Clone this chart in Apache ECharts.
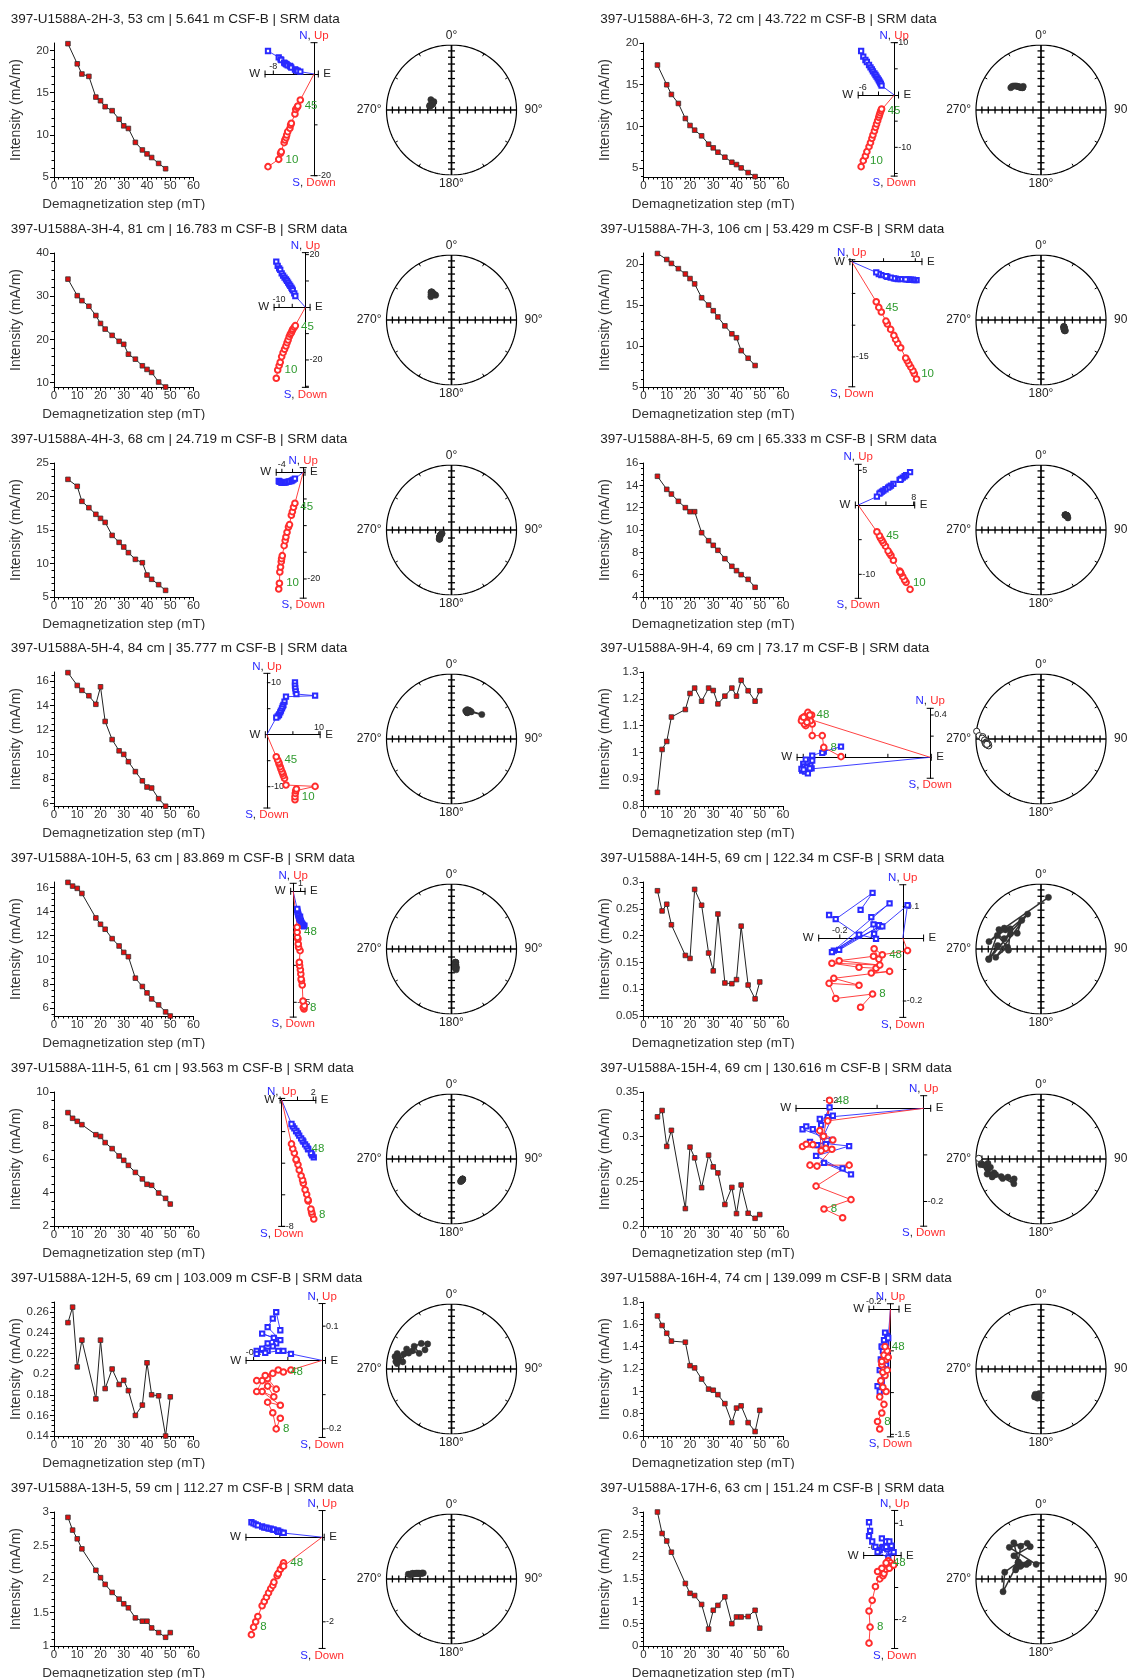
<!DOCTYPE html>
<html>
<head>
<meta charset="utf-8">
<script src="https://cdn.jsdelivr.net/npm/echarts@6/dist/echarts.min.js"></script>
<style>
  html, body { margin: 0; padding: 0; background: #fff; width: 1128px; height: 1678px; overflow: hidden; }
  .panel { position: absolute; height: 210px; overflow: hidden; }
</style>
</head>
<body>
<script>
// ---- demagnetization steps (mT) ----
const stepsA = [6, 10, 12, 15, 18, 20, 22, 25, 28, 30, 32, 35, 38, 40, 42, 45, 48];
const stepsB = [6, 8, 10, 12, 18, 20, 22, 25, 28, 30, 32, 35, 38, 40, 42, 45, 48, 50];

// ---- 2H-3 ----
const int2H3 = [20.82, 18.43, 17.22, 16.94, 14.48, 14.05, 13.34, 12.87, 11.85, 11.07, 10.76, 9.11, 8.21, 7.74, 7.31, 6.61, 5.98];
const east2H3 = [-9.05, -6.94, -6.58, -6.44, -5.87, -5.73, -5.51, -5.37, -5.17, -4.74, -4.60, -4.46, -3.75, -3.60, -3.32, -3.18, -2.69];
const north2H3 = [4.52, 3.28, 2.89, 2.75, 2.23, 2.10, 1.97, 1.90, 1.70, 1.57, 1.44, 1.25, 0.92, 0.79, 0.66, 0.59, 0.46];
const up2H3 = [-18.23, -16.79, -15.61, -15.28, -13.51, -12.98, -12.52, -12.00, -11.34, -10.69, -10.03, -9.70, -7.87, -6.95, -6.56, -6.30, -5.11];

// ---- 6H-3 ----
const int6H3 = [17.36, 15.0, 13.84, 12.76, 10.96, 10.12, 9.56, 8.88, 7.88, 7.44, 6.92, 6.32, 5.72, 5.44, 5.04, 4.48, 4.0];
const east6H3 = [-6.32, -5.91, -5.50, -5.22, -4.81, -4.53, -4.26, -4.06, -3.78, -3.57, -3.37, -3.16, -2.96, -2.82, -2.68, -2.55, -2.41];
const north6H3 = [8.41, 7.32, 6.69, 6.31, 5.73, 5.29, 4.90, 4.52, 4.14, 3.82, 3.50, 3.18, 2.87, 2.61, 2.36, 2.10, 1.78];
const up6H3 = [-13.69, -12.55, -11.66, -10.83, -9.87, -9.11, -8.28, -7.64, -6.88, -6.18, -5.54, -4.90, -4.27, -3.82, -3.38, -2.99, -2.68];

// ---- 3H-4 ----
const int3H4 = [33.96, 30.13, 28.98, 27.68, 25.54, 23.70, 22.40, 20.95, 19.57, 18.88, 16.59, 15.44, 13.91, 13.07, 12.37, 10.15, 9.0];
const east3H4 = [-11.06, -10.52, -9.97, -9.56, -9.01, -8.47, -7.92, -7.38, -6.97, -6.56, -6.15, -5.74, -5.33, -5.05, -4.78, -4.23, -3.82];
const north3H4 = [17.34, 15.70, 14.81, 14.18, 12.91, 12.03, 11.27, 10.63, 10.0, 9.37, 8.73, 8.10, 7.47, 6.96, 6.46, 5.32, 4.30];
const up3H4 = [-26.96, -23.80, -22.15, -20.89, -18.73, -17.22, -15.95, -14.68, -13.42, -12.41, -11.14, -10.25, -9.62, -8.86, -8.35, -7.59, -6.96];

// ---- 7H-3 ----
const int7H3 = [21.29, 20.56, 20.08, 19.44, 18.79, 18.23, 17.58, 15.89, 15.0, 14.31, 13.55, 12.46, 11.49, 11.01, 9.44, 8.51, 7.62];
const east7H3 = [10.20, 9.85, 9.63, 9.29, 9.00, 8.73, 8.49, 7.70, 7.24, 6.90, 6.63, 6.12, 5.60, 5.38, 4.65, 4.25, 3.85];
const north7H3 = [-2.89, -2.89, -2.84, -2.84, -2.84, -2.78, -2.78, -2.73, -2.73, -2.68, -2.62, -2.52, -2.37, -2.26, -2.10, -1.94, -1.68];
const up7H3 = [-18.48, -17.65, -17.17, -16.60, -16.12, -15.59, -15.17, -13.55, -12.86, -12.24, -11.61, -10.66, -9.82, -9.35, -7.93, -7.20, -6.30];

// ---- 4H-3 ----
const int4H3 = [22.56, 21.52, 19.28, 18.33, 17.34, 16.74, 16.14, 14.20, 13.16, 12.46, 11.62, 10.62, 10.12, 8.28, 7.64, 6.84, 5.99];
const east4H3 = [-4.59, -4.46, -4.38, -4.25, -4.11, -4.05, -3.92, -3.57, -3.38, -3.24, -3.03, -2.76, -2.57, -2.22, -2.03, -1.82, -1.55];
const north4H3 = [-1.63, -1.75, -1.81, -1.81, -1.88, -1.94, -1.94, -1.94, -1.88, -1.88, -1.81, -1.75, -1.69, -1.63, -1.50, -1.38, -1.19];
const up4H3 = [-21.88, -20.81, -18.69, -17.75, -16.75, -16.19, -15.63, -13.75, -12.81, -12.13, -11.25, -10.25, -9.81, -8.06, -7.38, -6.56, -5.81];

// ---- 8H-5 ----
const int8H5 = [14.81, 13.64, 13.22, 12.57, 12.0, 11.64, 11.64, 9.76, 9.04, 8.63, 8.18, 7.43, 6.75, 6.36, 6.0, 5.58, 4.87];
const east8H5 = [7.48, 6.91, 6.69, 6.43, 6.18, 5.97, 6.07, 5.08, 4.73, 4.51, 4.31, 3.94, 3.63, 3.43, 3.22, 3.06, 2.70];
const north8H5 = [4.73, 4.30, 4.15, 3.96, 3.77, 3.62, 3.62, 3.04, 2.80, 2.66, 2.51, 2.27, 2.08, 1.93, 1.79, 1.64, 1.21];
const up8H5 = [-12.17, -11.16, -10.82, -10.34, -9.86, -9.52, -9.66, -7.97, -7.29, -6.96, -6.62, -5.94, -5.46, -5.12, -4.78, -4.44, -3.86];

// ---- 5H-4 ----
const int5H4 = [16.70, 15.65, 15.25, 14.81, 14.11, 15.54, 12.71, 11.23, 10.31, 10.02, 9.42, 8.61, 7.86, 7.35, 7.27, 6.40, 5.78];
const east5H4 = [5.40, 5.40, 5.46, 5.54, 5.68, 9.27, 3.67, 3.39, 3.18, 3.04, 2.90, 2.70, 2.56, 2.35, 2.29, 2.07, 1.80];
const north5H4 = [10.06, 9.42, 8.91, 8.33, 7.82, 7.50, 7.31, 6.35, 5.71, 5.45, 5.06, 4.62, 4.29, 3.91, 3.78, 3.53, 3.27];
const up5H4 = [-12.50, -11.92, -11.28, -10.77, -10.45, -9.94, -9.68, -8.40, -7.88, -7.44, -7.12, -6.60, -6.15, -5.64, -5.32, -4.87, -4.23];

// ---- 9H-4 ----
const int9H4 = [0.851, 1.011, 1.041, 1.132, 1.160, 1.220, 1.240, 1.191, 1.240, 1.231, 1.181, 1.210, 1.240, 1.210, 1.269, 1.230, 1.191, 1.230];
const east9H4 = [-0.843, -1.006, -1.020, -1.115, -1.115, -1.176, -1.200, -1.132, -1.189, -1.149, -1.210, -1.165, -1.183, -1.121, -1.217, -1.156, -1.138, -1.197];
const north9H4 = [0.101, 0.054, 0.041, 0.016, -0.031, -0.022, -0.063, -0.079, -0.085, -0.110, -0.126, -0.094, -0.135, -0.104, -0.110, -0.151, -0.104, -0.117];
const up9H4 = [0.006, 0.094, 0.205, 0.205, 0.315, 0.299, 0.369, 0.346, 0.315, 0.387, 0.369, 0.331, 0.387, 0.400, 0.346, 0.425, 0.400, 0.378];

// ---- 10H-5 ----
const int10H5 = [16.42, 16.11, 15.92, 15.50, 13.47, 12.94, 12.53, 11.75, 11.14, 10.61, 10.25, 8.47, 7.78, 7.25, 6.75, 6.25, 5.67, 5.33];
const east10H5 = [1.46, 1.36, 1.51, 1.32, 1.22, 1.12, 1.07, 1.03, 0.97, 0.87, 0.83, 0.93, 0.73, 0.68, 0.64, 0.58, 0.54, 0.54];
const north10H5 = [-4.73, -4.68, -4.64, -4.55, -4.41, -4.28, -4.19, -4.05, -3.87, -3.74, -3.60, -3.42, -3.29, -3.11, -2.93, -2.75, -2.52, -2.39];
const up10H5 = [-15.90, -15.68, -15.45, -14.82, -12.66, -12.07, -11.85, -11.17, -10.59, -10.05, -9.59, -8.02, -7.57, -7.12, -6.44, -6.22, -5.54, -4.86];

// ---- 14H-5 ----
const int14H5 = [0.2837, 0.246, 0.2585, 0.2202, 0.163, 0.1574, 0.2862, 0.2567, 0.1675, 0.1342, 0.2403, 0.1116, 0.1103, 0.1179, 0.2177, 0.1078, 0.082, 0.1135];
const east14H5 = [-0.134, -0.096, -0.213, -0.234, -0.139, -0.219, -0.042, -0.100, -0.085, -0.139, -0.225, -0.073, -0.202, -0.093, -0.076, -0.091, -0.065, 0.015];
const north14H5 = [0.089, 0.143, 0.060, 0.073, 0.008, -0.040, 0.110, 0.066, -0.003, 0.011, -0.045, 0.037, -0.038, 0.043, 0.041, 0.013, 0.037, 0.104];
const up14H5 = [-0.220, -0.178, -0.192, -0.144, -0.150, -0.128, -0.106, -0.111, -0.096, -0.093, -0.080, -0.086, -0.072, -0.058, -0.067, -0.034, -0.053, -0.040];

// ---- 11H-5 ----
const int11H5 = [8.77, 8.43, 8.25, 8.05, 7.45, 7.35, 6.98, 6.62, 6.18, 5.92, 5.62, 5.20, 4.81, 4.49, 4.43, 3.97, 3.65, 3.31];
const east11H5 = [2.03, 1.93, 1.89, 1.85, 1.68, 1.66, 1.58, 1.48, 1.37, 1.32, 1.23, 1.11, 1.03, 0.93, 0.91, 0.80, 0.70, 0.62];
const north11H5 = [-3.63, -3.50, -3.42, -3.35, -3.12, -3.08, -2.93, -2.81, -2.64, -2.55, -2.43, -2.26, -2.11, -1.98, -1.96, -1.79, -1.67, -1.52];
const up11H5 = [-7.53, -7.24, -7.09, -6.90, -6.39, -6.31, -5.97, -5.68, -5.27, -5.06, -4.79, -4.43, -4.09, -3.82, -3.76, -3.36, -3.08, -2.78];

// ---- 15H-4 ----
const int15H4 = [0.3222, 0.3293, 0.2891, 0.3071, 0.2195, 0.2883, 0.2763, 0.2429, 0.2793, 0.2662, 0.2594, 0.2241, 0.2432, 0.2139, 0.2459, 0.2143, 0.2086, 0.2128];
const east15H4 = [-0.174, -0.214, -0.156, -0.231, -0.160, -0.244, -0.229, -0.197, -0.260, -0.252, -0.238, -0.210, -0.215, -0.195, -0.223, -0.220, -0.202, -0.206];
const north15H4 = [-0.129, -0.117, -0.142, -0.102, -0.081, -0.072, -0.079, -0.068, -0.045, -0.039, -0.045, -0.077, -0.060, -0.016, -0.023, -0.036, 0.002, -0.019];
const up15H4 = [-0.235, -0.216, -0.196, -0.167, -0.122, -0.122, -0.124, -0.088, -0.082, -0.077, -0.078, -0.086, -0.060, -0.068, -0.048, -0.091, 0.017, -0.027];

// ---- 12H-5 ----
const int12H5 = [0.250, 0.265, 0.207, 0.233, 0.176, 0.233, 0.186, 0.205, 0.190, 0.194, 0.184, 0.160, 0.170, 0.211, 0.180, 0.179, 0.140, 0.178];
const east12H5 = [-0.122, -0.134, -0.144, -0.159, -0.122, -0.175, -0.141, -0.159, -0.191, -0.175, -0.134, -0.159, -0.191, -0.144, -0.166, -0.128, -0.113, -0.091];
const north12H5 = [0.088, 0.141, 0.122, 0.097, 0.059, 0.078, 0.066, 0.050, 0.028, 0.034, 0.050, 0.028, 0.019, 0.041, 0.022, 0.028, 0.028, 0.019];
const up12H5 = [-0.169, -0.200, -0.153, -0.122, -0.131, -0.091, -0.106, -0.075, -0.091, -0.059, -0.084, -0.053, -0.059, -0.038, -0.044, -0.028, -0.034, -0.028];

// ---- 16H-4 ----
const int16H4 = [1.675, 1.59, 1.52, 1.45, 1.44, 1.23, 1.21, 1.11, 1.02, 1.01, 0.97, 0.89, 0.72, 0.85, 0.87, 0.72, 0.64, 0.83];
const east16H4 = [-0.128, -0.154, -0.103, -0.077, -0.128, -0.051, -0.090, -0.115, -0.064, -0.090, -0.038, -0.103, -0.051, -0.077, -0.103, -0.038, -0.064, -0.026];
const north16H4 = [-0.987, -0.923, -0.859, -0.795, -0.731, -0.667, -0.705, -0.603, -0.577, -0.500, -0.538, -0.449, -0.410, -0.372, -0.449, -0.321, -0.282, -0.346];
const up16H4 = [-1.436, -1.346, -1.244, -1.141, -1.051, -0.987, -0.936, -0.859, -0.795, -0.756, -0.731, -0.667, -0.603, -0.551, -0.628, -0.500, -0.449, -0.577];

// ---- 13H-5 ----
const int13H5 = [2.92, 2.73, 2.60, 2.45, 2.13, 2.02, 1.92, 1.80, 1.70, 1.63, 1.57, 1.42, 1.37, 1.37, 1.27, 1.20, 1.13, 1.20];
const east13H5 = [-1.671, -1.620, -1.570, -1.519, -1.418, -1.367, -1.316, -1.266, -1.215, -1.165, -1.139, -1.063, -1.038, -1.038, -0.987, -0.937, -0.911, -0.911];
const north13H5 = [0.354, 0.329, 0.304, 0.278, 0.253, 0.228, 0.228, 0.203, 0.203, 0.177, 0.177, 0.152, 0.152, 0.127, 0.127, 0.101, 0.101, 0.101];
const up13H5 = [-2.304, -2.127, -2.000, -1.873, -1.620, -1.519, -1.418, -1.316, -1.215, -1.139, -1.063, -0.911, -0.861, -0.861, -0.759, -0.684, -0.608, -0.684];

// ---- 17H-6 ----
const int17H6 = [3.0, 2.52, 2.35, 2.1, 1.4, 1.18, 1.13, 0.93, 0.38, 0.8, 0.91, 1.1, 0.5, 0.65, 0.65, 0.66, 0.8, 0.4];
const east17H6 = [-0.800, -0.767, -0.800, -0.700, -0.600, -0.467, -0.367, -0.533, -0.200, -0.333, -0.267, -0.400, -0.133, -0.233, -0.100, -0.167, -0.267, -0.033];
const north17H6 = [1.033, 0.767, 0.600, 0.433, 0.267, 0.167, 0.267, 0.100, -0.067, 0.233, 0.433, 0.533, 0.100, 0.200, 0.300, 0.433, 0.267, 0.100];
const up17H6 = [-2.733, -2.233, -1.733, -1.400, -0.967, -0.733, -0.633, -0.500, -0.167, -0.567, -0.433, -0.400, -0.233, -0.300, -0.333, -0.400, -0.233, -0.300];

// ---- panels: text, data references, axis ranges and plot frames ----
const panels = [
  { title: '397-U1588A-2H-3, 53 cm | 5.641 m CSF-B | SRM data', steps: stepsA, intensity: int2H3, east: east2H3, north: north2H3, up: up2H3,
    intAxis: { min: 5, max: 20.9, major: 5, minor: 1 },
    zij: { ox: 314, oy: 74, s: 5.083, x: [-9.63, 0.85], y: [-20, 6.16], xt: [-8, -4], xl: [-8], yt: [-10, -20], yl: [-20] } },
  { title: '397-U1588A-6H-3, 72 cm | 43.722 m CSF-B | SRM data', steps: stepsA, intensity: int6H3, east: east6H3, north: north6H3, up: up6H3,
    intAxis: { min: 3.95, max: 20, major: 5, minor: 1 },
    zij: { ox: 304.7, oy: 95, s: 5.233, x: [-6.88, 0.83], y: [-15.5, 10], xt: [-6, -3], xl: [-6], yt: [10, 5, -5, -10, -15], yl: [10, -10] } },
  { title: '397-U1588A-3H-4, 81 cm | 16.783 m CSF-B | SRM data', steps: stepsA, intensity: int3H4, east: east3H4, north: north3H4, up: up3H4,
    intAxis: { min: 9, max: 40, major: 10, minor: 2 },
    zij: { ox: 305.4, oy: 97.3, s: 2.633, x: [-11.89, 1.78], y: [-30.4, 20.76], xt: [-10, -5], xl: [-10], yt: [20, 10, -10, -20, -30], yl: [20, -20] } },
  { title: '397-U1588A-7H-3, 106 cm | 53.429 m CSF-B | SRM data', steps: stepsA, intensity: int7H3, east: east7H3, north: north7H3, up: up7H3,
    intAxis: { min: 5, max: 21.35, major: 5, minor: 1 },
    zij: { ox: 262.3, oy: 51.7, s: 6.35, x: [-0.3, 11.05], y: [-19.7, 0.3], xt: [5, 10], xl: [10], yt: [-5, -10, -15], yl: [-15] } },
  { title: '397-U1588A-4H-3, 68 cm | 24.719 m CSF-B | SRM data', steps: stepsA, intensity: int4H3, east: east4H3, north: north4H3, up: up4H3,
    intAxis: { min: 5, max: 25, major: 5, minor: 1 },
    zij: { ox: 303.2, oy: 52.3, s: 5.333, x: [-5.06, 0.34], y: [-23.6, 0.875], xt: [-4, -2], xl: [-4], yt: [-5, -10, -15, -20], yl: [-20] } },
  { title: '397-U1588A-8H-5, 69 cm | 65.333 m CSF-B | SRM data', steps: stepsA, intensity: int8H5, east: east8H5, north: north8H5, up: up8H5,
    intAxis: { min: 4, max: 16, major: 2, minor: 0.5 },
    zij: { ox: 268.7, oy: 85, s: 6.933, x: [-0.41, 8.15], y: [-13.46, 5.87], xt: [4, 8], xl: [8], yt: [5, -5, -10], yl: [5, -10] } },
  { title: '397-U1588A-5H-4, 84 cm | 35.777 m CSF-B | SRM data', steps: stepsA, intensity: int5H4, east: east5H4, north: north5H4, up: up5H4,
    intAxis: { min: 5.8, max: 16.75, major: 2, minor: 0.5 },
    zij: { ox: 266.9, oy: 105.7, s: 5.2, x: [-0.3, 10.24], y: [-14.1, 11.8], xt: [5, 10], xl: [10], yt: [10, 5, -5, -10], yl: [10, -10] } },
  { title: '397-U1588A-9H-4, 69 cm | 73.17 m CSF-B | SRM data', steps: stepsB, intensity: int9H4, east: east9H4, north: north9H4, up: up9H4,
    intAxis: { min: 0.8, max: 1.3, major: 0.1, minor: 0.02 },
    zij: { ox: 340.7, oy: 128.3, s: 105.8, x: [-1.258, 0.01], y: [-0.198, 0.463], xt: [-0.4, -0.8, -1.2], xl: [], yt: [0.2, 0.4], yl: [0.4] } },
  { title: '397-U1588A-10H-5, 63 cm | 83.869 m CSF-B | SRM data', steps: stepsB, intensity: int10H5, east: east10H5, north: north10H5, up: up10H5,
    intAxis: { min: 5.33, max: 16.45, major: 2, minor: 0.5 },
    zij: { ox: 293.2, oy: 52.3, s: 7.4, x: [-0.34, 1.6], y: [-17, 1.08], xt: [1], xl: [1], yt: [-5, -10, -15], yl: [-15] } },
  { title: '397-U1588A-14H-5, 69 cm | 122.34 m CSF-B | SRM data', steps: stepsB, intensity: int14H5, east: east14H5, north: north14H5, up: up14H5,
    intAxis: { min: 0.05, max: 0.3, major: 0.05, minor: 0.01 },
    zij: { ox: 313.3, oy: 99, s: 315, x: [-0.267, 0.066], y: [-0.252, 0.169], xt: [-0.2, -0.1], xl: [-0.2], yt: [0.1, -0.1, -0.2], yl: [0.1, -0.2] } },
  { title: '397-U1588A-11H-5, 61 cm | 93.563 m CSF-B | SRM data', steps: stepsB, intensity: int11H5, east: east11H5, north: north11H5, up: up11H5,
    intAxis: { min: 2, max: 10, major: 2, minor: 0.5 },
    zij: { ox: 281.7, oy: 51, s: 15.8, x: [-0.1, 2.16], y: [-8, 0.1], xt: [1, 2], xl: [2], yt: [-2, -4, -6, -8], yl: [-8], gapLate: 15 } },
  { title: '397-U1588A-15H-4, 69 cm | 130.616 m CSF-B | SRM data', steps: stepsB, intensity: int15H4, east: east15H4, north: north15H4, up: up15H4,
    intAxis: { min: 0.2, max: 0.35, major: 0.05, minor: 0.01 },
    zij: { ox: 334.2, oy: 59.3, s: 466, x: [-0.274, 0.015], y: [-0.253, 0.027], xt: [-0.2, -0.1], xl: [-0.2], yt: [-0.1, -0.2], yl: [-0.2] } },
  { title: '397-U1588A-12H-5, 69 cm | 103.009 m CSF-B | SRM data', steps: stepsB, intensity: int12H5, east: east12H5, north: north12H5, up: up12H5,
    intAxis: { min: 0.14, max: 0.27, major: 0.02, minor: 0.005 },
    zij: { ox: 322.1, oy: 101.4, s: 342.5, x: [-0.222, 0.01], y: [-0.225, 0.166], xt: [-0.2, -0.1], xl: [-0.2], yt: [0.1, -0.1, -0.2], yl: [0.1, -0.2] } },
  { title: '397-U1588A-16H-4, 74 cm | 139.099 m CSF-B | SRM data', steps: stepsB, intensity: int16H4, east: east16H4, north: north16H4, up: up16H4,
    intAxis: { min: 0.6, max: 1.8, major: 0.2, minor: 0.05 },
    zij: { ox: 300.9, oy: 50.1, s: 83.5, x: [-0.256, 0.103], y: [-1.53, 0.064], xt: [-0.2], xl: [-0.2], yt: [-0.5, -1, -1.5], yl: [-1.5] } },
  { title: '397-U1588A-13H-5, 59 cm | 112.27 m CSF-B | SRM data', steps: stepsB, intensity: int13H5, east: east13H5, north: north13H5, up: up13H5,
    intAxis: { min: 1, max: 3, major: 0.5, minor: 0.1 },
    zij: { ox: 322.1, oy: 68.2, s: 42.3, x: [-1.8, 0.05], y: [-2.63, 0.63], xt: [-1], xl: [], yt: [-1, -2], yl: [-2] } },
  { title: '397-U1588A-17H-6, 63 cm | 151.24 m CSF-B | SRM data', steps: stepsB, intensity: int17H6, east: east17H6, north: north17H6, up: up17H6,
    intAxis: { min: 0, max: 3, major: 0.5, minor: 0.1 },
    zij: { ox: 305.2, oy: 86.4, s: 32.1, x: [-0.967, 0.2], y: [-2.9, 1.4], xt: [-0.6], xl: [-0.6], yt: [1, -1, -2], yl: [1, -2] } }
];

const FONT = '"Liberation Sans", Arial, Helvetica, sans-serif';
const BLUE = '#2a2aff', RED = '#ff2d2d', GREEN = '#2e9a2e', INK = '#1c1c1c';
const NET = { cx: 451.5, cy: 110, r: 65 };   // equal-area net frame inside a panel
const COL_X = [0, 589.5], ROW_H = 209.8;

function ticksBetween(lo, hi, step) {
  const out = [];
  for (let v = Math.ceil(lo / step - 1e-9) * step; v <= hi + 1e-9; v += step) out.push(+v.toFixed(6));
  return out;
}
const fmt = v => String(+(+v).toFixed(4));

// equal-area (Schmidt) projection of a magnetization vector
function project(e, n, u) {
  const h = Math.hypot(e, n);
  const dec = Math.atan2(e, n);
  const inc = Math.atan2(-u, h);
  const r = Math.SQRT2 * Math.sin((Math.PI / 2 - Math.abs(inc)) / 2);
  return { x: r * Math.sin(dec), y: r * Math.cos(dec), down: inc >= 0 };
}
function incRadius(incDeg) {
  return Math.SQRT2 * Math.sin((90 - incDeg) * Math.PI / 360);
}

function buildOption(p) {
  const n = p.steps.length;
  const ia = p.intAxis, z = p.zij;
  const zl = z.ox + z.x[0] * z.s, zt = z.oy - z.y[1] * z.s;
  const zw = (z.x[1] - z.x[0]) * z.s, zh = (z.y[1] - z.y[0]) * z.s;

  const majors = ticksBetween(ia.min, ia.max, ia.major);
  const minors = ticksBetween(ia.min, ia.max, ia.minor);

  const stepLabel = (i, gap) => ({
    show: true, formatter: String(p.steps[i]), position: 'right', distance: gap,
    color: GREEN, fontSize: 11.5, fontFamily: FONT
  });

  const horiz = p.east.map((e, i) => [e, p.north[i]]);
  const vert = p.east.map((e, i) => {
    const item = { value: [e, p.up[i]] };
    if (i === 1) item.label = stepLabel(i, 3);
    if (i === n - 2) item.label = stepLabel(i, z.gapLate || 3);
    return item;
  });
  const origin = { value: [0, 0], symbol: 'none' };

  const netPts = p.east.map((e, i) => {
    const d = project(e, p.north[i], p.up[i]);
    return {
      value: [d.x, d.y],
      itemStyle: d.down ? { color: '#333', borderColor: '#333', borderWidth: 0.5 }
                        : { color: '#fff', borderColor: '#222', borderWidth: 1 }
    };
  });

  const circle = [];
  for (let a = 0; a <= 360; a += 2) {
    const t = a * Math.PI / 180;
    circle.push([Math.sin(t), Math.cos(t)]);
  }

  const axisLineStyle = { color: '#000', width: 1 };

  return {
    animation: false,
    textStyle: { fontFamily: FONT },
    title: {
      text: p.title, left: 10.8, top: 12, padding: 0,
      textStyle: { fontSize: 13.5, fontWeight: 'normal', color: INK, fontFamily: FONT }
    },
    grid: [
      { left: 54, top: 43, width: 139.5, height: 134, containLabel: false, outerBoundsMode: 'none' },
      { left: zl, top: zt, width: zw, height: zh, containLabel: false, outerBoundsMode: 'none' },
      { left: NET.cx - NET.r, top: NET.cy - NET.r, width: 2 * NET.r, height: 2 * NET.r, containLabel: false, outerBoundsMode: 'none' }
    ],
    xAxis: [
      { gridIndex: 0, type: 'value', min: 0, max: 60, interval: 10,
        axisLine: { show: true, onZero: false, lineStyle: axisLineStyle },
        axisTick: { show: true, length: 4, lineStyle: { color: '#000' } },
        minorTick: { show: true, splitNumber: 5, length: 2.5, lineStyle: { color: '#000' } },
        splitLine: { show: false }, minorSplitLine: { show: false },
        axisLabel: { fontSize: 11.5, color: '#333', margin: 3, fontFamily: FONT },
        name: 'Demagnetization step (mT)', nameLocation: 'middle', nameGap: 15,
        nameTextStyle: { fontSize: 13.5, color: '#333', fontFamily: FONT } },
      { gridIndex: 1, type: 'value', min: z.x[0], max: z.x[1],
        axisLine: { show: true, onZero: true, lineStyle: axisLineStyle },
        axisTick: { show: false }, axisLabel: { show: false }, splitLine: { show: false } },
      { gridIndex: 2, type: 'value', min: -1, max: 1, show: false }
    ],
    yAxis: [
      { gridIndex: 0, type: 'value', position: 'left', min: ia.min, max: ia.max,
        axisLine: { show: true, onZero: false, lineStyle: axisLineStyle },
        axisTick: { show: true, length: 4, customValues: majors, lineStyle: { color: '#000' } },
        axisLabel: { show: true, customValues: majors, fontSize: 11.5, color: '#333', margin: 5, fontFamily: FONT,
                     formatter: v => fmt(v) },
        splitLine: { show: false },
        name: 'Intensity (mA/m)', nameLocation: 'middle', nameGap: 31, nameRotate: 90,
        nameTextStyle: { fontSize: 14, color: '#333', fontFamily: FONT } },
      { gridIndex: 0, type: 'value', position: 'left', min: ia.min, max: ia.max,
        axisLine: { show: false, onZero: false },
        axisTick: { show: true, length: 2.5, customValues: minors, lineStyle: { color: '#000' } },
        axisLabel: { show: false }, splitLine: { show: false } },
      { gridIndex: 1, type: 'value', position: 'left', min: z.y[0], max: z.y[1],
        axisLine: { show: true, onZero: true, lineStyle: axisLineStyle },
        axisTick: { show: false }, axisLabel: { show: false }, splitLine: { show: false } },
      { gridIndex: 2, type: 'value', min: -1, max: 1, show: false }
    ],
    series: [
      // intensity decay curve
      { type: 'line', xAxisIndex: 0, yAxisIndex: 0, data: p.steps.map((s, i) => [s, p.intensity[i]]),
        symbol: 'rect', symbolSize: 4.6, clip: false,
        itemStyle: { color: '#e01010', borderColor: '#333', borderWidth: 0.8 },
        lineStyle: { color: '#222', width: 1 }, silent: true, z: 3 },

      // orthogonal plot: end caps, ticks, tick labels and direction labels
      { type: 'custom', xAxisIndex: 1, yAxisIndex: 2, data: [[0, 0]], silent: true, clip: false, z: 1,
        renderItem: (params, api) => {
          const w = api.coord([z.x[0], 0]), e = api.coord([z.x[1], 0]);
          const nn = api.coord([0, z.y[1]]), s = api.coord([0, z.y[0]]);
          const o = api.coord([0, 0]);
          const c = 3.5, tk = 3.5;
          const ln = (x1, y1, x2, y2) => ({ type: 'line', shape: { x1, y1, x2, y2 }, style: { stroke: '#000', lineWidth: 1 } });
          const txt = (x, y, text, align, va, size, rich) => ({
            type: 'text', x, y,
            style: { text, align, verticalAlign: va, fill: '#222', fontSize: size, fontFamily: FONT, rich }
          });
          const rich = { b: { fill: BLUE, fontSize: 11.5, fontFamily: FONT }, k: { fill: '#222', fontSize: 11.5, fontFamily: FONT }, r: { fill: RED, fontSize: 11.5, fontFamily: FONT } };
          const ch = [
            ln(w[0], w[1] - c, w[0], w[1] + c), ln(e[0], e[1] - c, e[0], e[1] + c),
            ln(nn[0] - c, nn[1], nn[0] + c, nn[1]), ln(s[0] - c, s[1], s[0] + c, s[1]),
            txt(w[0] - 5, w[1], 'W', 'right', 'middle', 11.5),
            txt(e[0] + 5, e[1], 'E', 'left', 'middle', 11.5),
            txt(nn[0], nn[1] - 1, '{b|N}{k|, }{r|Up}', 'center', 'bottom', 11.5, rich),
            txt(s[0], s[1] + 1, '{b|S}{k|, }{r|Down}', 'center', 'top', 11.5, rich)
          ];
          z.xt.forEach(v => { const q = api.coord([v, 0]); ch.push(ln(q[0], o[1], q[0], o[1] - tk)); });
          z.yt.forEach(v => { const q = api.coord([0, v]); ch.push(ln(o[0], q[1], o[0] + tk, q[1])); });
          z.xl.forEach(v => { const q = api.coord([v, 0]); ch.push(txt(q[0], o[1] - 3, fmt(v), 'center', 'bottom', 9)); });
          z.yl.forEach(v => { const q = api.coord([0, v]); ch.push(txt(o[0] + 4, q[1], fmt(v), 'left', 'middle', 9)); });
          return { type: 'group', children: ch };
        } },
      // horizontal projection (E, N)
      { type: 'line', xAxisIndex: 1, yAxisIndex: 2, data: horiz.concat([origin]),
        symbol: 'emptyRect', symbolSize: 4.3,
        itemStyle: { color: BLUE, borderColor: BLUE, borderWidth: 1 },
        lineStyle: { color: BLUE, width: 0.9 }, silent: true, clip: false, z: 3 },
      // vertical projection (E, Up)
      { type: 'line', xAxisIndex: 1, yAxisIndex: 2, data: vert.concat([origin]),
        symbol: 'emptyCircle', symbolSize: 5.6,
        itemStyle: { color: RED, borderColor: RED, borderWidth: 1 },
        lineStyle: { color: RED, width: 0.9 }, silent: true, clip: false, z: 3 },

      // stereonet primitive circle
      { type: 'line', xAxisIndex: 2, yAxisIndex: 3, data: circle, symbol: 'none', smooth: false,
        lineStyle: { color: '#000', width: 1.2 }, silent: true, z: 1 },
      // stereonet cross, inclination ticks and azimuth labels
      { type: 'custom', xAxisIndex: 2, yAxisIndex: 3, data: [[0, 0]], silent: true, clip: false, z: 1,
        renderItem: (params, api) => {
          const ch = [];
          const L = (a, b, w) => ({ type: 'line', shape: { x1: a[0], y1: a[1], x2: b[0], y2: b[1] }, style: { stroke: '#000', lineWidth: w } });
          ch.push(L(api.coord([-1, 0]), api.coord([1, 0]), 1.7));
          ch.push(L(api.coord([0, -1]), api.coord([0, 1]), 1.7));
          const t = 3.5;
          for (let inc = 10; inc <= 80; inc += 10) {
            const r = incRadius(inc);
            for (const sgn of [-1, 1]) {
              const ph = api.coord([sgn * r, 0]);
              ch.push(L([ph[0], ph[1] - t], [ph[0], ph[1] + t], 1.3));
              const pv = api.coord([0, sgn * r]);
              ch.push(L([pv[0] - t, pv[1]], [pv[0] + t, pv[1]], 1.3));
            }
          }
          for (let az = 30; az < 360; az += 30) {
            if (az % 90 === 0) continue;
            const a = az * Math.PI / 180;
            const p1 = api.coord([Math.sin(a), Math.cos(a)]);
            const p2 = api.coord([0.955 * Math.sin(a), 0.955 * Math.cos(a)]);
            ch.push(L(p1, p2, 1));
          }
          const top = api.coord([0, 1]), bot = api.coord([0, -1]), lft = api.coord([-1, 0]), rgt = api.coord([1, 0]);
          const lab = (x, y, text, align, va) => ({ type: 'text', x, y, style: { text, align, verticalAlign: va, fill: '#222', fontSize: 12, fontFamily: FONT } });
          ch.push(lab(top[0], top[1] - 3, '0°', 'center', 'bottom'));
          ch.push(lab(bot[0], bot[1] + 3, '180°', 'center', 'top'));
          ch.push(lab(lft[0] - 5, lft[1], '270°', 'right', 'middle'));
          ch.push(lab(rgt[0] + 8, rgt[1], '90°', 'left', 'middle'));
          return { type: 'group', children: ch };
        } },
      // stereonet directions per step
      { type: 'line', xAxisIndex: 2, yAxisIndex: 3, data: netPts,
        symbol: 'circle', symbolSize: 6.2,
        lineStyle: { color: '#333', width: 1.5 }, silent: true, clip: false, z: 4 }
    ]
  };
}

panels.forEach((p, idx) => {
  const col = idx % 2, row = Math.floor(idx / 2);
  const div = document.createElement('div');
  div.className = 'panel';
  const left = Math.round(COL_X[col]);
  div.style.left = left + 'px';
  div.style.top = Math.round(row * ROW_H) + 'px';
  div.style.width = (col ? 1128 - left : 589) + 'px';
  document.body.appendChild(div);
  const chart = echarts.init(div, null, { renderer: 'canvas' });
  const opt = buildOption(p);
  if (col) {
    // right column frame is offset by the sub-pixel remainder of its origin
    const dx = COL_X[1] - left;
    opt.grid.forEach(g => { g.left += dx; });
    opt.title.left += dx;
  }
  chart.setOption(opt);
});
</script>
</body>
</html>
